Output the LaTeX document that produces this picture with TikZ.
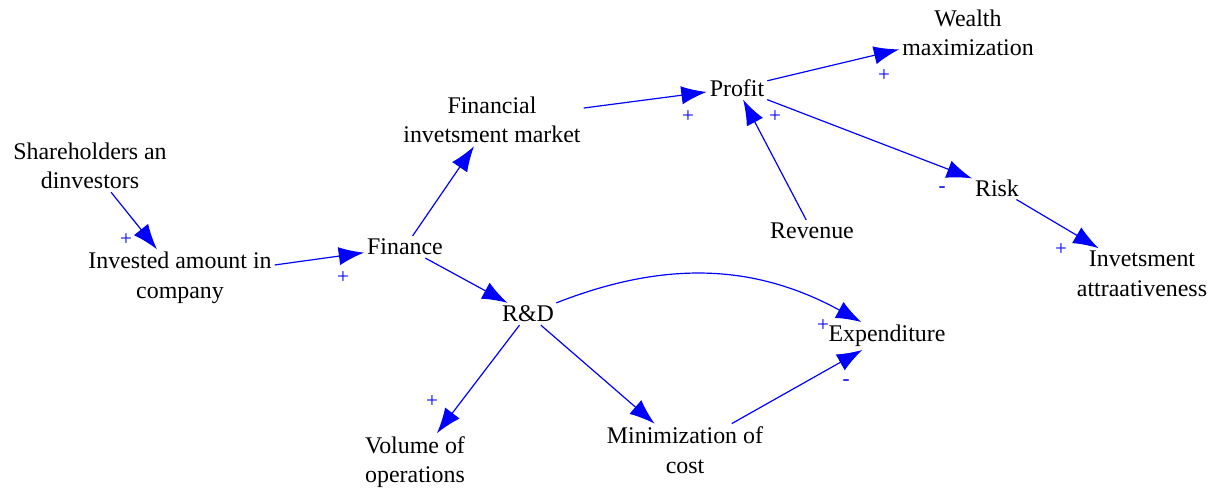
\documentclass[tikz,border=0pt]{standalone}
\usepackage{fontspec}
\setmainfont{Liberation Serif}
\usetikzlibrary{arrows.meta}

\begin{document}
\begin{tikzpicture}[x=0.025cm,y=-0.025cm,
  var/.style={align=center,font=\fontsize{17}{21}\selectfont,inner sep=2pt},
  link/.style={blue,line width=0.85pt,-{Latex[length=18pt,width=13pt]}},
  sign/.style={blue,font=\fontsize{15}{15}\selectfont,inner sep=0pt}]
\useasboundingbox (0,0) rectangle (1214,488);
% variables
\node[var] (share) at (90,166) {Shareholders an\\dinvestors};
\node[var] (invest) at (180,278) {Invested amount in\\company};
\node[var] (finance) at (405,247) {Finance};
\node[var] (market) at (492,120) {Financial\\invetsment market};
\node[var] (profit) at (737,88) {Profit};
\node[var] (wealth) at (968,33) {Wealth\\maximization};
\node[var] (revenue) at (812,231) {Revenue};
\node[var] (risk) at (997,188) {Risk};
\node[var] (attract) at (1142,274) {Invetsment\\attraativeness};
\node[var] (rd) at (528,314) {R\&D};
\node[var] (expend) at (887,336) {Expenditure};
\node[var] (volume) at (415,462) {Volume of\\operations};
\node[var] (mincost) at (685,450) {Minimization of\\cost};
% links
\draw[link] (share) -- (invest);
\draw[link] (invest) -- (finance);
\draw[link] (finance) -- (market);
\draw[link] (market) -- (profit);
\draw[link] (profit) -- (wealth);
\draw[link] (revenue) -- (profit);
\draw[link] (profit) -- (risk);
\draw[link] (risk) -- (attract);
\draw[link] (finance) -- (rd);
\draw[link] (rd) to[bend left=25] (expend);
\draw[link] (rd) -- (volume);
\draw[link] (rd) -- (mincost);
\draw[link] (mincost) -- (expend);
% polarities
\node[sign] (s1) at (126,240) {+};
\node[sign] (s2) at (343,278) {+};
\node[sign] (s3) at (688,117) {+};
\node[sign] (s4) at (884,76) {+};
\node[sign] (s5) at (775,117) {+};
\node[sign] (s6) at (942,190) {-};
\node[sign] (s7) at (1061,250) {+};
\node[sign] (s8) at (823,326) {+};
\node[sign] (s9) at (432,402) {+};
\node[sign] (s10) at (846,383) {-};
\end{tikzpicture}
\end{document}
